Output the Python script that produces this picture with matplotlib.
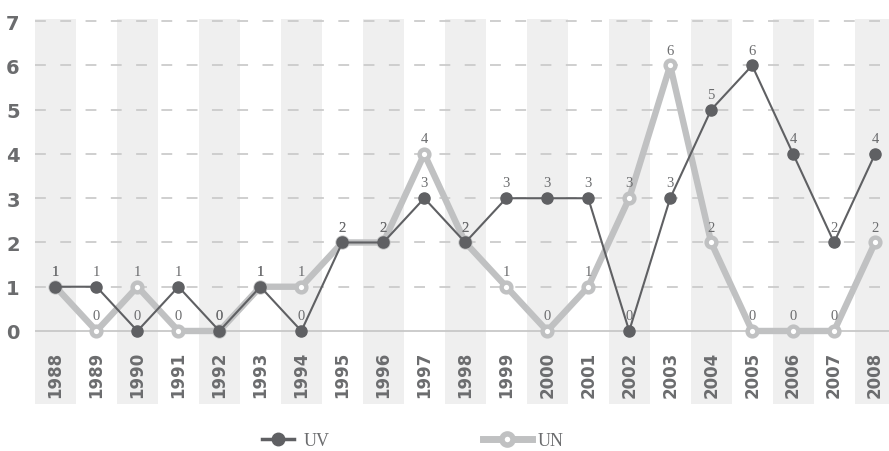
import matplotlib.pyplot as plt
from matplotlib.lines import Line2D

anos = [str(a) for a in range(1988, 2009)]
uv = [1, 1, 0, 1, 0, 1, 0, 2, 2, 3, 2, 3, 3, 3, 0, 3, 5, 6, 4, 2, 4]
un = [1, 0, 1, 0, 0, 1, 1, 2, 2, 4, 2, 1, 0, 1, 3, 6, 2, 0, 0, 0, 2]
ticks_y = [0, 1, 2, 3, 4, 5, 6, 7]

cor_uv = '#5f6063'
cor_un = '#c0c1c2'
cor_txt = '#6b6c6e'

fig = plt.figure(figsize=(8.89, 4.52), dpi=100)
ax = fig.add_axes([35 / 889, 1 - 405 / 452, 1 - 35 / 889, 385 / 452])

x = list(range(len(anos)))

# faixas cinzentas alternadas
for i in x:
    if i % 2 == 0:
        ax.axvspan(i - 0.5, i + 0.5, color='#efefef', zorder=0, lw=0)

for v in ticks_y[1:]:
    ax.axhline(v, color='#cbcbcb', lw=1.3, dashes=(6, 8), zorder=1)
ax.axhline(0, color='#c8c8c8', lw=1.3, zorder=1)

ax.plot(x, un, color=cor_un, lw=4.6, marker='o', ms=7, mfc='white',
        mec=cor_un, mew=3.2, zorder=3)
ax.plot(x, uv, color=cor_uv, lw=1.5, marker='o', ms=8, mfc=cor_uv,
        mec=cor_uv, zorder=4)

for i in x:
    ax.text(i, uv[i] + 0.2, str(uv[i]), ha='center', va='bottom',
            fontsize=10.5, color=cor_txt, family='Liberation Serif', zorder=5)
    ax.text(i, un[i] + 0.2, str(un[i]), ha='center', va='bottom',
            fontsize=10.5, color=cor_txt, family='Liberation Serif', zorder=5)
    ax.text(i, -0.97, anos[i], rotation=90, ha='center', va='center',
            fontsize=12, fontweight='bold', color=cor_txt)

ax.set_xlim(-0.5, 20.34)
ax.set_ylim(-1.65, 7.05)
ax.set_xticks([])
ax.set_yticks(ticks_y)
ax.set_yticklabels([str(t) for t in ticks_y], fontsize=14, fontweight='bold', color=cor_txt)
ax.tick_params(axis='y', length=0, pad=11)
for s in ax.spines.values():
    s.set_visible(False)

h_uv = Line2D([], [], color=cor_uv, lw=2.5, marker='o', ms=9, mfc=cor_uv, mec=cor_uv)
h_un = Line2D([], [], color=cor_un, lw=5, marker='o', ms=8, mfc='white', mec=cor_un, mew=4)
fonte_leg = {'family': 'Liberation Serif', 'size': 13}
leg1 = fig.legend([h_uv], ['UV'], loc='center left', bbox_to_anchor=(262 / 889, 1 - 442 / 452),
                  frameon=False, handlelength=1.75, handletextpad=0.55, borderpad=0,
                  borderaxespad=0, prop=fonte_leg)
leg2 = fig.legend([h_un], ['UN'], loc='center left', bbox_to_anchor=(483 / 889, 1 - 442 / 452),
                  frameon=False, handlelength=2.7, handletextpad=0.3, borderpad=0,
                  borderaxespad=0, prop=fonte_leg)
for leg in (leg1, leg2):
    for t in leg.get_texts():
        t.set_color(cor_txt)

plt.savefig('out.png', dpi=100)
